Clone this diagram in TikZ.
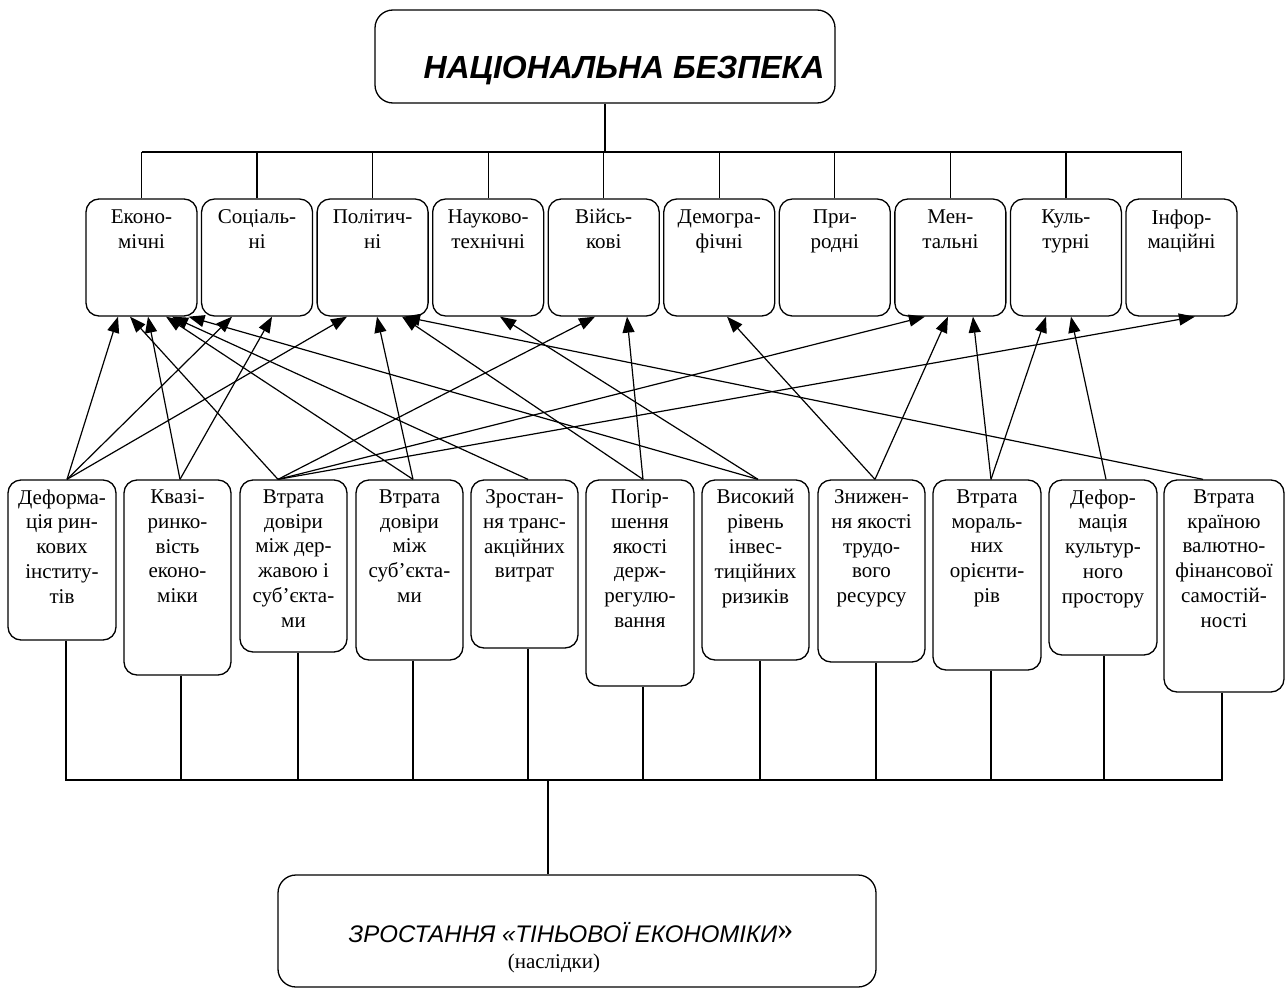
\documentclass[tikz,border=0pt]{standalone}
\usepackage{fontspec}
\setmainfont{Liberation Serif}
\newfontfamily\arialf{Liberation Sans}
\usetikzlibrary{arrows.meta}
\begin{document}
\begin{tikzpicture}[x=1pt,y=-1pt,
  ubox/.style={draw,line width=1.3pt,rounded corners=13pt,minimum width=111pt,minimum height=117pt,inner sep=0pt},
  lbox/.style={draw,line width=1.3pt,rounded corners=13pt,inner sep=0pt},
  btext/.style={anchor=north,align=center,font=\fontsize{21}{24.8}\selectfont,inner sep=0pt},
  conn/.style={line width=1.3pt},
  arr/.style={line width=1.2pt,-{Triangle[length=16pt,width=12pt]}}
]
\useasboundingbox (0,0) rectangle (1288,988);
% top box
\node[draw,line width=1.3pt,rounded corners=18pt,minimum width=460pt,minimum height=93pt,inner sep=0pt] (nb) at (605,56.5) {};
\node[inner sep=0pt,anchor=base,font=\arialf\bfseries\itshape\fontsize{32}{32}\selectfont] (nbt) at (624,78) {НАЦІОНАЛЬНА БЕЗПЕКА};
\coordinate (tl) at (141.5,152);
\coordinate (tr) at (1181.5,152);
\draw[conn] (nb.south) -- (nb.south |- tl);
\draw[conn] (tl) -- (tr);
% upper boxes
\foreach \i/\t [count=\k from 0] in {1/{Еконо-\\мічні},2/{Соціаль-\\ні},3/{Політич-\\ні},4/{Науково-\\технічні},5/{Війсь-\\кові},6/{Демогра-\\фічні},7/{При-\\родні},8/{Мен-\\тальні},9/{Куль-\\турні},10/{Інфор-\\маційні}}{
  \node[ubox] (u\i) at ({141.5+115.55*\k},257.5) {};
  \node[btext] (ut\i) at ([yshift=-11pt]u\i.north) {\t};
  \draw[conn] (u\i.north) -- (u\i.north |- tl);
}
% lower boxes
\coordinate (bl) at (66,780);
\coordinate (br) at (1222,780);
\foreach \i/\cx/\w/\h/\s/\t in {
  1/62/108/160/4/{Деформа-\\ція рин-\\кових\\інститу-\\тів},
  2/177.5/107/195/3.5/{Квазі-\\ринко-\\вість\\еконо-\\міки},
  3/293.5/107/172/4.5/{Втрата\\довіри\\між дер-\\жавою і\\суб’єкта-\\ми},
  4/409.5/107/180/3.5/{Втрата\\довіри\\між\\суб’єкта-\\ми},
  5/524.5/107/168/3.5/{Зростан-\\ня транс-\\акційних\\витрат},
  6/640/108/206/3/{Погір-\\шення\\якості\\держ-\\регулю-\\вання},
  7/755.5/107/180/4.5/{Високий\\рівень\\інвес-\\тиційних\\ризиків},
  8/871.5/107/182/4.5/{Знижен-\\ня якості\\трудо-\\вого\\ресурсу},
  9/987/108/190/4/{Втрата\\мораль-\\них\\орієнти-\\рів},
  10/1103/108/175/1/{Дефор-\\мація\\культур-\\ного\\простору},
  11/1224/120/212/-2/{Втрата\\країною\\валютно-\\фінансової\\самостій-\\ності}}{
  \node[lbox,minimum width=\w pt,minimum height=\h pt] (l\i) at (\cx,{480+\h/2}) {};
  \node[btext] (lt\i) at ([yshift=-10pt]l\i.north) {\t};
  \draw[conn] ([xshift=\s pt]l\i.south) -- ++(0,{300-\h});
}
\draw[conn] (bl) -- (br);
% bottom box
\node[draw,line width=1.3pt,rounded corners=18pt,minimum width=598pt,minimum height=112pt,inner sep=0pt] (zb) at (577,931) {};
\coordinate (bm) at (548,780);
\draw[conn] (bm) -- (bm |- zb.north);
\node[inner sep=0pt,anchor=base,font=\arialf\itshape\fontsize{24}{24}\selectfont] (zt) at (571,942) {ЗРОСТАННЯ «ТІНЬОВОЇ ЕКОНОМІКИ{\rmfamily\upshape\fontsize{32}{32}\selectfont\raisebox{3pt}{»}}};
\node[inner sep=0pt,anchor=base,font=\fontsize{21}{21}\selectfont] (zn) at (554,968) {(наслідки)};
% arrows
\foreach \a/\oa/\b/\ob in {
  1/5/1/-23.5, 1/5/2/-25, 1/5/3/-25.6,
  2/2.5/1/6.5, 2/2.5/2/15,
  3/-15.5/1/-11.5, 3/-15.5/5/-8.7, 3/-15.5/8/-25.4, 3/-15.5/10/13.5,
  4/3.5/1/24.5, 4/3.5/3/4.4,
  5/3.5/1/30.5,
  6/3/3/29.4, 6/3/5/23.3,
  7/2.5/1/47, 7/2.5/4/11.8,
  8/3.5/6/7.8, 8/3.5/8/-2.4,
  9/4/8/22.6, 9/4/9/-19.9,
  10/3/9/5.1,
  11/-21/3/31.4}{
  \draw[arr] ([xshift=\oa pt]l\a.north) -- ([xshift=\ob pt]u\b.south);
}
\end{tikzpicture}
\end{document}
